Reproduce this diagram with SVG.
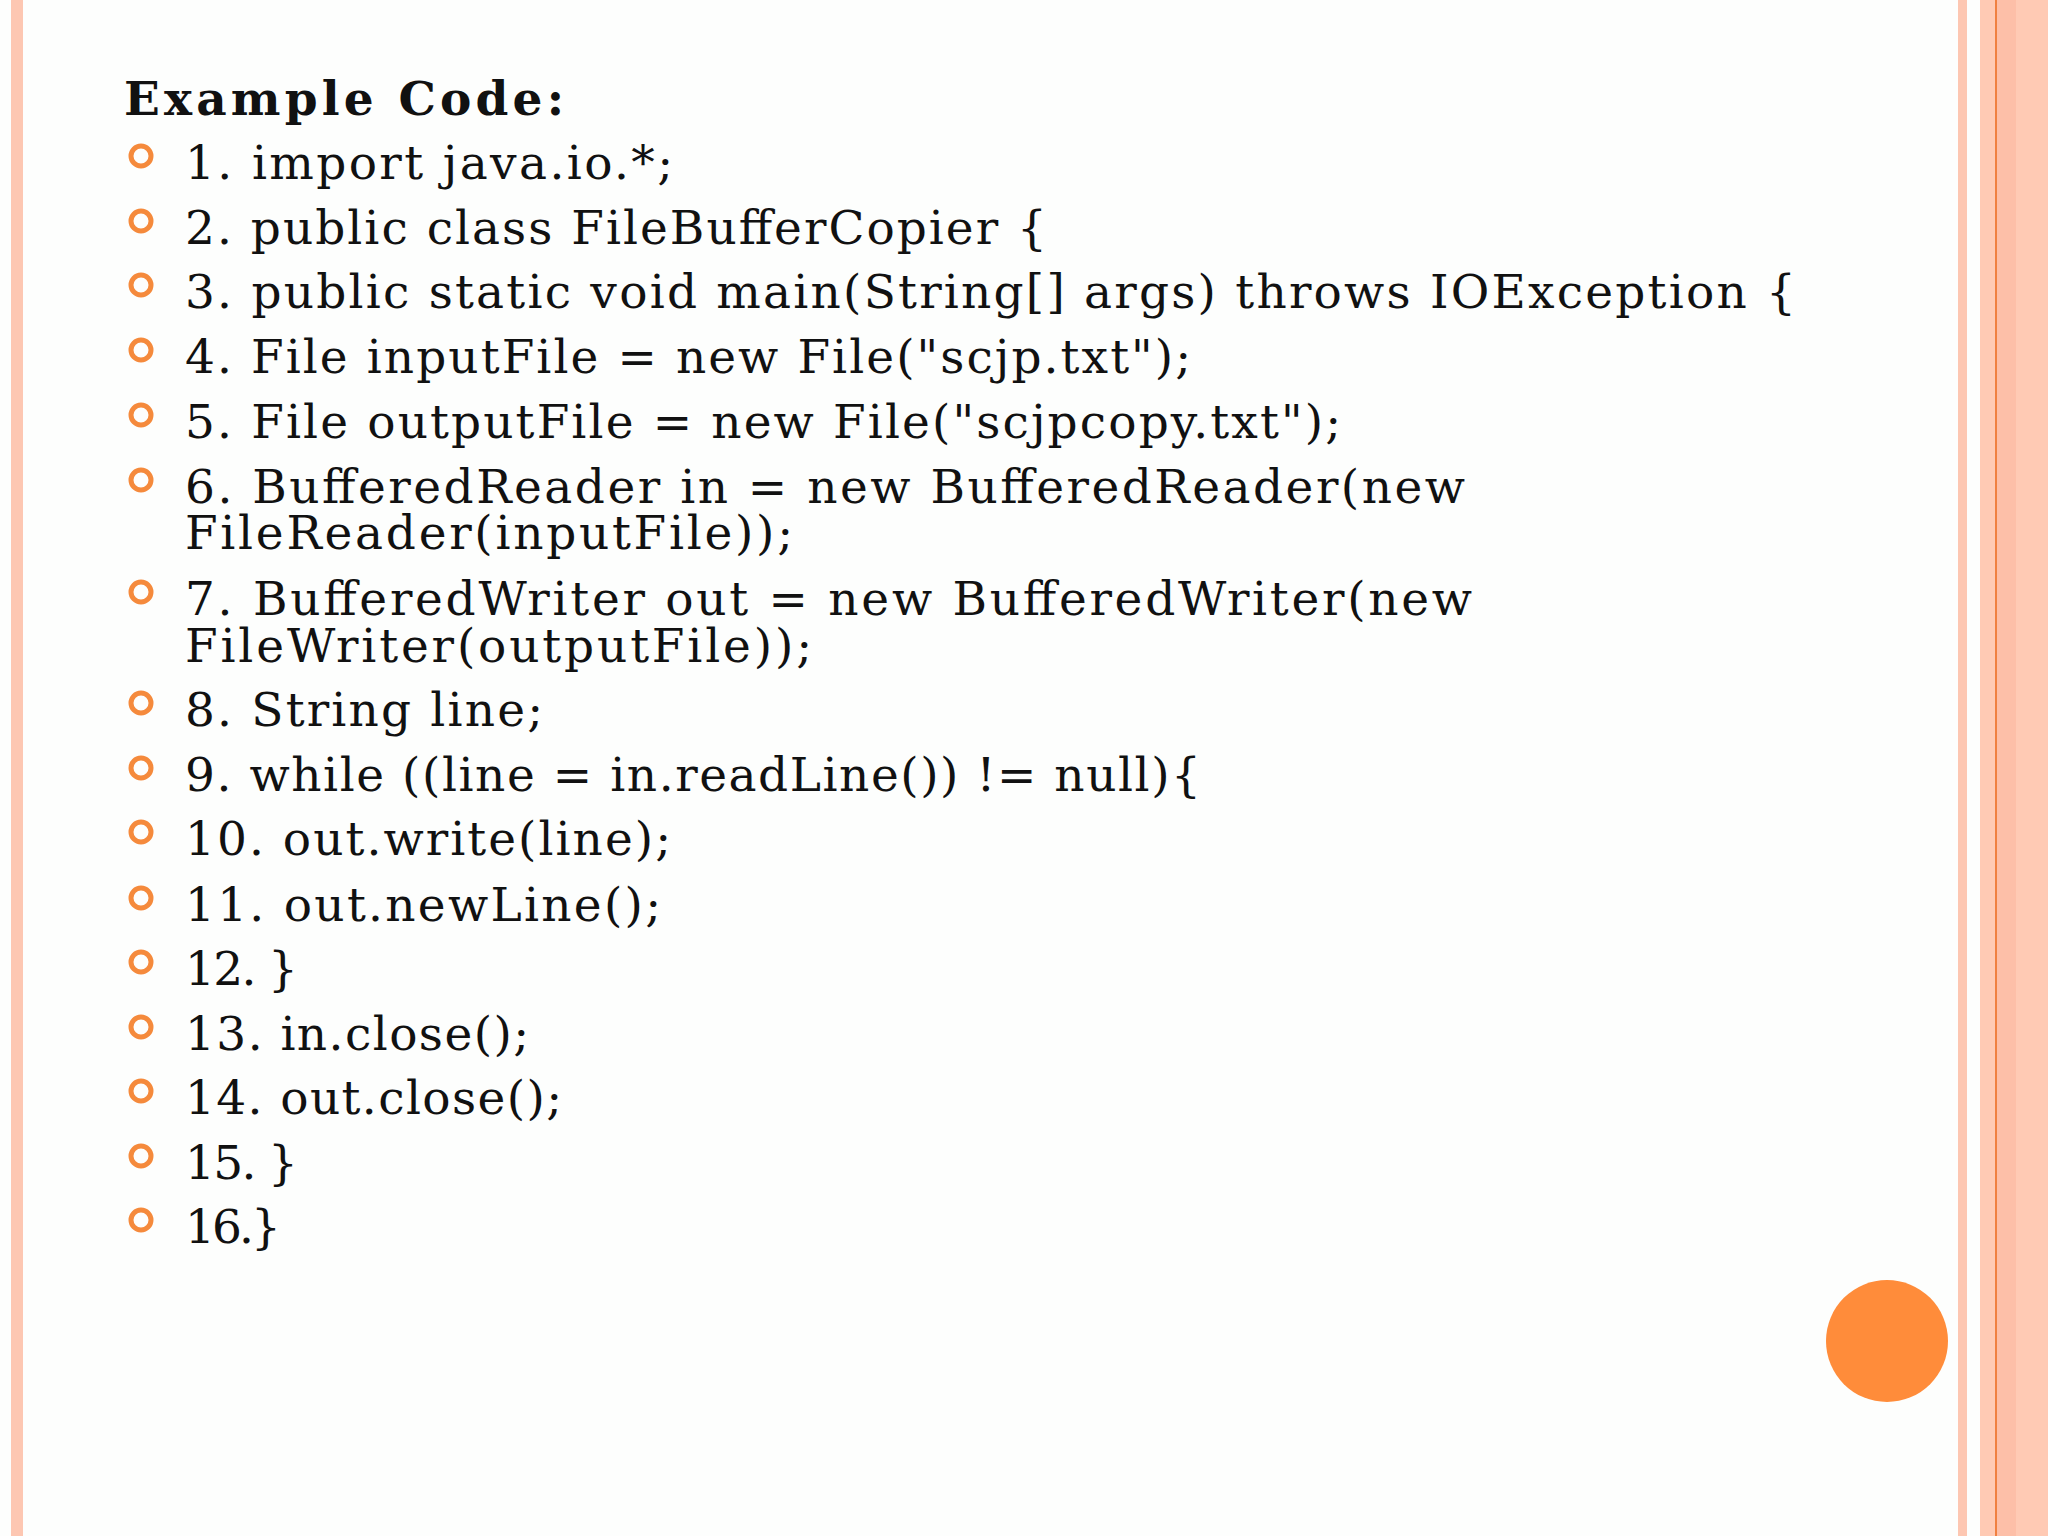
<svg xmlns="http://www.w3.org/2000/svg" width="2048" height="1536" viewBox="0 0 2048 1536">
<style>
.t{font-family:"DejaVu Serif","Liberation Serif",serif;font-size:47px;fill:#111}
.b{fill:none;stroke:#F58A3C;stroke-width:5}
</style>
<rect width="2048" height="1536" fill="#FDFEFD"/>
<rect x="11" y="0" width="12" height="1536" fill="#FDC7B2"/>
<rect x="1958" y="0" width="9" height="1536" fill="#FDC7B2"/>
<rect x="1980" y="0" width="68" height="1536" fill="#FFCAB4"/>
<rect x="1996" y="0" width="20" height="1536" fill="#FDBFA8"/>
<rect x="1995" y="0" width="2" height="1536" fill="#F08040"/>
<circle cx="1887" cy="1341" r="61" fill="#FF8C3A"/>
<g id="title"><text x="124" y="115" class="t" font-weight="bold" textLength="440">Example Code:</text></g>
<g id="bullets">
<circle class="b" cx="141" cy="156" r="10"/><circle class="b" cx="141" cy="221" r="10"/><circle class="b" cx="141" cy="285" r="10"/><circle class="b" cx="141" cy="350" r="10"/><circle class="b" cx="141" cy="415" r="10"/><circle class="b" cx="141" cy="480" r="10"/><circle class="b" cx="141" cy="592" r="10"/><circle class="b" cx="141" cy="703" r="10"/><circle class="b" cx="141" cy="768" r="10"/><circle class="b" cx="141" cy="832" r="10"/><circle class="b" cx="141" cy="898" r="10"/><circle class="b" cx="141" cy="962" r="10"/><circle class="b" cx="141" cy="1027" r="10"/><circle class="b" cx="141" cy="1091" r="10"/><circle class="b" cx="141" cy="1156" r="10"/><circle class="b" cx="141" cy="1220" r="10"/>
</g>
<g id="code">
<text x="185" y="179" class="t" textLength="488">1. import java.io.*;</text>
<text x="185" y="244" class="t" textLength="862">2. public class FileBufferCopier {</text>
<text x="185" y="308" class="t" textLength="1611">3. public static void main(String[] args) throws IOException {</text>
<text x="185" y="373" class="t" textLength="1006">4. File inputFile = new File("scjp.txt");</text>
<text x="185" y="438" class="t" textLength="1156">5. File outputFile = new File("scjpcopy.txt");</text>
<text x="185" y="503" class="t" textLength="1280">6. BufferedReader in = new BufferedReader(new</text>
<text x="185" y="549" class="t" textLength="608">FileReader(inputFile));</text>
<text x="185" y="615" class="t" textLength="1287">7. BufferedWriter out = new BufferedWriter(new</text>
<text x="185" y="662" class="t" textLength="627">FileWriter(outputFile));</text>
<text x="185" y="726" class="t" textLength="358">8. String line;</text>
<text x="185" y="791" class="t" textLength="1016">9. while ((line = in.readLine()) != null){</text>
<text x="185" y="855" class="t" textLength="486">10. out.write(line);</text>
<text x="185" y="921" class="t" textLength="476">11. out.newLine();</text>
<text x="185" y="985" class="t" textLength="113">12. }</text>
<text x="185" y="1050" class="t" textLength="344">13. in.close();</text>
<text x="185" y="1114" class="t" textLength="377">14. out.close();</text>
<text x="185" y="1179" class="t" textLength="113">15. }</text>
<text x="185" y="1243" class="t" textLength="96">16.}</text>
</g>
</svg>
